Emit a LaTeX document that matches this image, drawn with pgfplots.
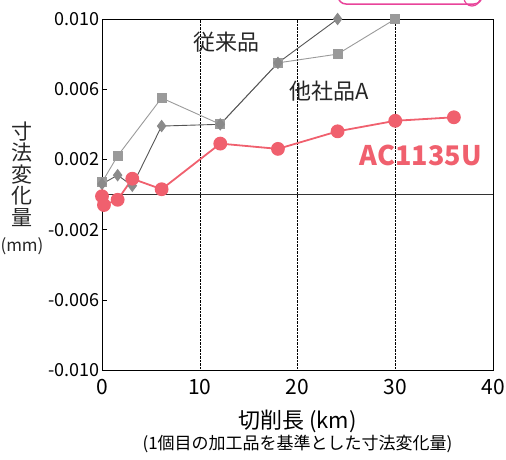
\documentclass[border=0pt]{standalone}
\usepackage{pgfplots}
\pgfplotsset{compat=1.18}
\usepackage{fontspec}
\setmainfont{Noto Sans CJK JP}
\definecolor{acpink}{HTML}{F0606E}
\definecolor{oldgray}{HTML}{555555}
\definecolor{oldmark}{HTML}{8A8A8A}
\definecolor{othgray}{HTML}{9A9A9A}
\definecolor{boxpink}{HTML}{E8449A}

\begin{document}
\begin{tikzpicture}
\begin{axis}[
    scale only axis,
    width=391pt, height=351pt,
    xmin=0, xmax=40, ymin=-0.010, ymax=0.010,
    xtick={0,10,20,30,40},
    ytick={-0.010,-0.006,-0.002,0.002,0.006,0.010},
    yticklabels={-0.010,-0.006,-0.002,0.002,0.006,0.010},
    scaled y ticks=false,
    /pgf/number format/assume math mode=true,
    yticklabel style={font=\fontsize{18}{18}\selectfont, xshift=1pt},
    xticklabel style={font=\fontsize{21}{21}\selectfont, yshift=-6pt},
    x tick style={draw=none},
    y tick style={black, thin},
    major tick length=5pt,
    tick align=inside,
    ytick pos=left,
    axis line style={black, thin},
    clip=false,
    xlabel={\fontsize{22}{24}\selectfont 切削長 (km)\\[1pt]\fontsize{17}{19}\selectfont (1個目の加工品を基準とした寸法変化量)},
    xlabel style={align=center, yshift=-8pt},
]
% grid lines
\addplot[black, densely dotted, thin] coordinates {(10,-0.010) (10,0.010)};
\addplot[black, densely dotted, thin] coordinates {(20,-0.010) (20,0.010)};
\addplot[black, densely dotted, thin] coordinates {(30,-0.010) (30,0.010)};
\addplot[black!80, thin] coordinates {(0,0) (40,0)};

% 他社品A
\addplot[othgray, line width=0.9pt, mark=square*, mark size=4.5pt,
    mark options={fill=othgray, draw=othgray}]
coordinates {(0,0.0007) (1.6,0.0022) (6.1,0.0055) (12.1,0.0040) (18.0,0.0075) (24.1,0.0080) (30.0,0.0100)};

% 従来品
\addplot[oldgray, line width=0.9pt, mark=diamond*, mark size=5.6pt,
    mark options={fill=oldmark, draw=oldmark}]
coordinates {(0,0.0006) (1.6,0.0011) (3.1,0.0005) (6.1,0.0039) (12.1,0.0040) (18.0,0.0075) (24.1,0.0100)};

% AC1135U
\addplot[acpink, line width=1.8pt, mark=*, mark size=6pt,
    mark options={fill=acpink, draw=acpink}]
coordinates {(0,-0.0001) (0.2,-0.0006) (1.6,-0.0003) (3.1,0.0009) (6.1,0.0003) (12.1,0.0029) (18.0,0.0026) (24.1,0.0036) (30.0,0.0042) (36.0,0.0044)};

\node[font=\fontsize{22}{22}\selectfont, text=black!85] at (axis cs:12.7,0.0087) {従来品};
\node[font=\fontsize{22}{22}\selectfont, text=black!85] at (axis cs:23.2,0.0059) {他社品A};
\node[font=\fontsize{27}{27}\selectfont\bfseries, text=acpink] at (axis cs:32.6,0.0022) {AC1135U};
\end{axis}
% y axis label
\node[font=\fontsize{21}{21.5}\selectfont, align=center, text=black!85] at (-80pt,196pt) {寸\\法\\変\\化\\量};
\node[font=\fontsize{17}{17}\selectfont, text=black!85] at (-80pt,124pt) {(mm)};
% cut-off box at the top
\draw[overlay, boxpink, line width=1.5pt, rounded corners=8pt] (236pt,366pt) rectangle (380pt,392pt);
\draw[overlay, boxpink, line width=1.2pt] (370pt,372pt) circle (8pt);
\pgfresetboundingbox
\useasboundingbox (-102pt,-89pt) rectangle (404pt,370pt);
\end{tikzpicture}
\end{document}
